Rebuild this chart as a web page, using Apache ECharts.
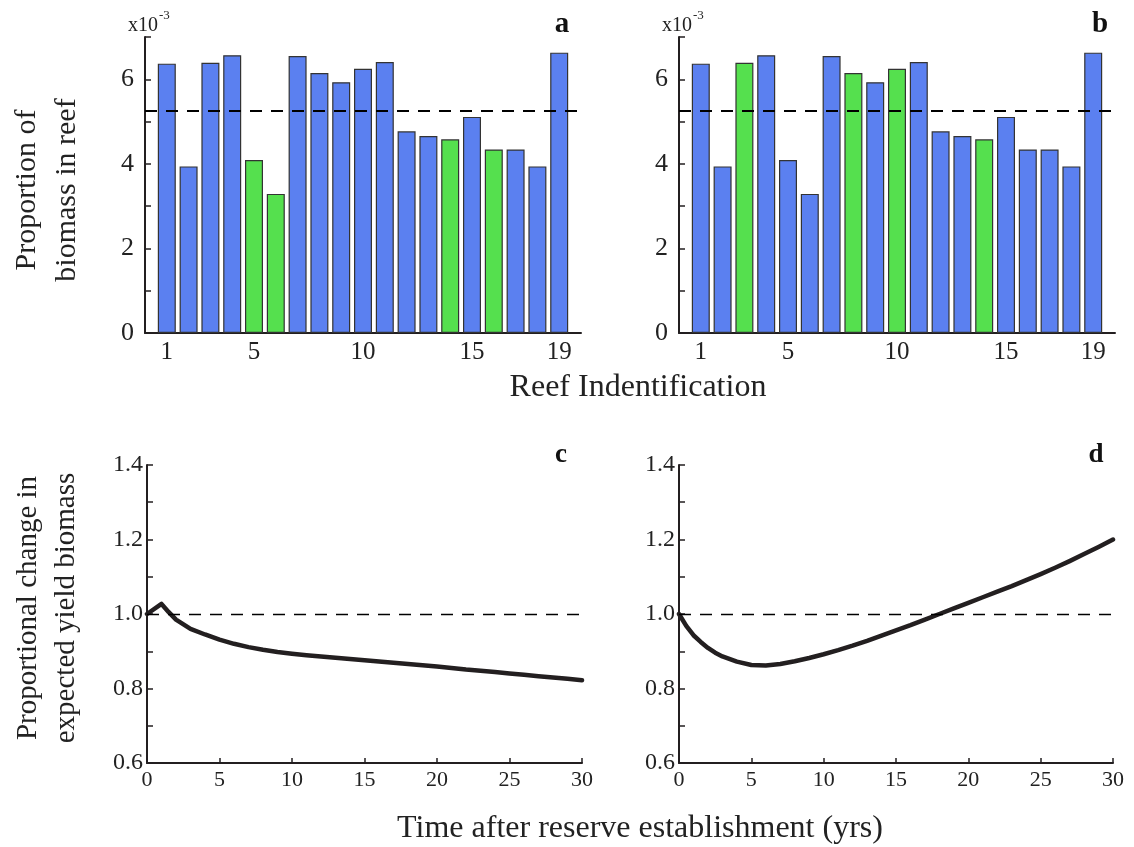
<!DOCTYPE html>
<html>
<head>
<meta charset="utf-8">
<script src="https://cdn.jsdelivr.net/npm/echarts@6/dist/echarts.min.js"></script>
<style>
html,body{margin:0;padding:0;background:#fff;}
#chart{width:1134px;height:847px;}
</style>
</head>
<body>
<div id="chart"></div>
<script>
// ---- data ----
const reefIds = [1, 2, 3, 4, 5, 6, 7, 8, 9, 10, 11, 12, 13, 14, 15, 16, 17, 18, 19];
// proportion of biomass in reef (x10^-3)
const biomass = [6.37, 3.94, 6.39, 6.57, 4.09, 3.29, 6.55, 6.15, 5.93, 6.25, 6.41, 4.77, 4.66, 4.58, 5.11, 4.34, 4.34, 3.94, 6.63];
const reservesA = [5, 6, 14, 16];
const reservesB = [3, 8, 10, 14];
const meanProportion = 5.26;
const reefTickLabels = [1, 5, 10, 15, 19];

const yearsC = [0, 1, 1.5, 2, 3, 4, 5, 6, 7, 8, 9, 10, 11, 12, 13, 14, 15, 16, 17, 18, 19, 20, 21, 22, 23, 24, 25, 26, 27, 28, 29, 30];
const yieldC = [1.0, 1.027, 1.005, 0.985, 0.960, 0.945, 0.931, 0.920, 0.911, 0.904, 0.898, 0.8935, 0.8895, 0.886, 0.8825, 0.879, 0.8757, 0.8724, 0.869, 0.866, 0.8625, 0.859, 0.8552, 0.851, 0.8478, 0.844, 0.8405, 0.8368, 0.833, 0.8295, 0.826, 0.8222];
const yearsD = [0, 0.5, 1, 1.5, 2, 2.5, 3, 4, 5, 6, 7, 8, 9, 10, 11, 12, 13, 14, 15, 16, 17, 18, 19, 20, 21, 22, 23, 24, 25, 26, 27, 28, 29, 30];
const yieldD = [1.0, 0.968, 0.943, 0.925, 0.909, 0.896, 0.886, 0.872, 0.863, 0.862, 0.866, 0.873, 0.882, 0.892, 0.903, 0.915, 0.928, 0.942, 0.956, 0.970, 0.985, 1.0, 1.015, 1.030, 1.045, 1.060, 1.075, 1.091, 1.107, 1.124, 1.142, 1.161, 1.180, 1.200];
const baseline = 1.0;

// ---- styles ----
const FONT = '"Liberation Serif", "DejaVu Serif", serif';
const BLUE = '#5b80f0';
const GREEN = '#55e04e';
const INK = '#231f20';

const chart = echarts.init(document.getElementById('chart'), null, {renderer: 'canvas'});

function barData(reserves) {
  return reefIds.map((id, i) => ({
    value: [id, biomass[i]],
    itemStyle: {color: reserves.includes(id) ? GREEN : BLUE}
  }));
}
function pairs(xs, ys) { return xs.map((x, i) => [x, ys[i]]); }

const axisLineStyle = {show: true, lineStyle: {color: INK, width: 2}};

const grids = [
  {left: 145, top: 37, width: 436, height: 296},
  {left: 679, top: 37, width: 436, height: 296},
  {left: 147, top: 465, width: 435, height: 298},
  {left: 679, top: 465, width: 434, height: 298}
];

const xAxes = [];
const yAxes = [];
for (let g = 0; g < 2; g++) {
  xAxes.push({
    type: 'value', gridIndex: g, min: 0, max: 20,
    axisLine: axisLineStyle, splitLine: {show: false},
    axisTick: {show: false},
    axisLabel: {customValues: reefTickLabels, fontFamily: FONT, fontSize: 25, color: '#222', margin: 7}
  });
  yAxes.push({
    type: 'value', gridIndex: g, min: 0, max: 7, interval: 1,
    axisLine: axisLineStyle, splitLine: {show: false},
    axisTick: {show: true, inside: true, length: 6, lineStyle: {color: INK, width: 1.5}},
    axisLabel: {fontFamily: FONT, fontSize: 26, color: '#222', margin: 11,
      formatter: v => (Math.round(v) % 2 === 0 ? String(Math.round(v)) : '')}
  });
}
for (let g = 2; g < 4; g++) {
  xAxes.push({
    type: 'value', gridIndex: g, min: 0, max: 30, interval: 5,
    axisLine: axisLineStyle, splitLine: {show: false},
    axisTick: {show: true, inside: true, length: 5, lineStyle: {color: INK, width: 1.5}},
    axisLabel: {fontFamily: FONT, fontSize: 22, color: '#222', margin: 6}
  });
  yAxes.push({
    type: 'value', gridIndex: g, min: 0.6, max: 1.4, interval: 0.1,
    axisLine: axisLineStyle, splitLine: {show: false},
    axisTick: {show: true, inside: true, length: 6, lineStyle: {color: INK, width: 1.5}},
    axisLabel: {fontFamily: FONT, fontSize: 24, color: '#222', margin: 4,
      formatter: v => (Math.round(v * 10) % 2 === 0 ? v.toFixed(1) : '')}
  });
}

function meanLineMark(width) {
  return {
    silent: true, symbol: 'none', label: {show: false},
    lineStyle: {color: '#000', type: [12, 9], width: width},
    data: [{yAxis: 0}]
  };
}

const barSeries = [reservesA, reservesB].map((res, g) => ({
  type: 'bar', xAxisIndex: g, yAxisIndex: g, barWidth: 18,
  data: barData(res),
  itemStyle: {borderColor: '#333', borderWidth: 1.2},
  markLine: Object.assign(meanLineMark(2), {data: [{yAxis: meanProportion}]}),
  z: 2
}));

const lineSeries = [[yearsC, yieldC], [yearsD, yieldD]].map((d, k) => ({
  type: 'line', xAxisIndex: k + 2, yAxisIndex: k + 2,
  data: pairs(d[0], d[1]), showSymbol: false, symbol: 'none',
  lineStyle: {color: INK, width: 4.5, join: 'round', cap: 'round'},
  markLine: Object.assign(meanLineMark(1.3), {data: [{yAxis: baseline}]}),
  z: 3
}));

function txt(x, y, text, size, opts) {
  return Object.assign({
    type: 'text', x: x, y: y,
    style: Object.assign({text: text, fontFamily: FONT, fontSize: size, fill: '#222',
      align: 'center', verticalAlign: 'middle'}, opts && opts.style || {})
  }, opts && opts.el || {});
}

const graphics = [
  // axis titles
  txt(47, 190, 'Proportion of\nbiomass in reef', 30, {el: {rotation: Math.PI / 2}, style: {lineHeight: 40}}),
  txt(47, 608, 'Proportional change in\nexpected yield biomass', 29, {el: {rotation: Math.PI / 2}, style: {lineHeight: 38}}),
  txt(638, 388, 'Reef Indentification', 32),
  txt(640, 829, 'Time after reserve establishment (yrs)', 32),
  // panel letters
  txt(562, 25, 'a', 29, {style: {fontWeight: 'bold', fill: '#111'}}),
  txt(1100, 25, 'b', 29, {style: {fontWeight: 'bold', fill: '#111'}}),
  txt(561, 455, 'c', 27, {style: {fontWeight: 'bold', fill: '#111'}}),
  txt(1096, 455, 'd', 27, {style: {fontWeight: 'bold', fill: '#111'}}),
  // x10^-3 multipliers
  txt(128, 26, 'x10', 20, {style: {align: 'left'}}),
  txt(159, 16, '-3', 13, {style: {align: 'left'}}),
  txt(662, 26, 'x10', 20, {style: {align: 'left'}}),
  txt(693, 16, '-3', 13, {style: {align: 'left'}})
];

chart.setOption({
  animation: false,
  backgroundColor: '#fff',
  grid: grids,
  xAxis: xAxes,
  yAxis: yAxes,
  series: barSeries.concat(lineSeries),
  graphic: graphics
});
</script>
</body>
</html>
